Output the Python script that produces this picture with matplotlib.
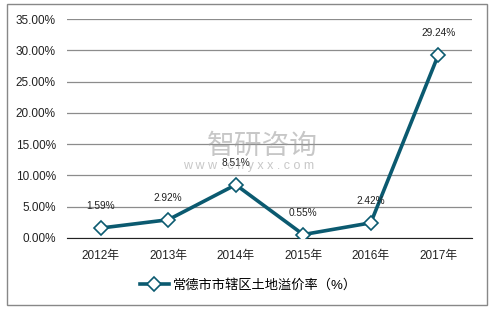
import matplotlib
matplotlib.use("Agg")
import matplotlib.pyplot as plt
from matplotlib.patches import Rectangle

plt.rcParams['font.family'] = ['Liberation Sans', 'Noto Sans CJK SC', 'DejaVu Sans']

years = ['2012年', '2013年', '2014年', '2015年', '2016年', '2017年']
values = [1.59, 2.92, 8.51, 0.55, 2.42, 29.24]
labels = ['1.59%', '2.92%', '8.51%', '0.55%', '2.42%', '29.24%']
yticks = [0, 5, 10, 15, 20, 25, 30, 35]
series_name = '常德市市辖区土地溢价率（%）'

color = '#0b5a70'
W, H = 497, 309
fig = plt.figure(figsize=(W/100, H/100), dpi=100)
fig.patches.append(Rectangle((7/W, 4/H), (487-7)/W, (305-4)/H, transform=fig.transFigure,
                             fill=False, edgecolor='#888888', lw=1.0))

ax = fig.add_axes([67/W, 1-238/H, (472-67)/W, (238-19)/H])
x = list(range(len(years)))
ax.plot(x, values, color=color, lw=2.6, marker='D', markersize=7,
        markerfacecolor='white', markeredgecolor=color, markeredgewidth=1.2,
        label=series_name, zorder=3)
for xi, v, lab in zip(x, values, labels):
    ax.annotate(lab, (xi, v), xytext=(0, 12), textcoords='offset points',
                ha='center', va='bottom', fontsize=7.3, color='#222222', zorder=4)

ax.set_xlim(-0.5, len(years) - 0.5)
ax.set_ylim(0, 35)
ax.set_yticks(yticks)
ax.set_yticklabels([f'{t:.2f}%' for t in yticks], fontsize=8.5)
ax.set_xticks(x)
ax.set_xticklabels(years, fontsize=8.5)
ax.yaxis.grid(True, color='#8c8c8c', lw=0.9)
ax.set_axisbelow(True)
for s in ['top', 'right', 'left']:
    ax.spines[s].set_visible(False)
ax.spines['bottom'].set_color('#222222')
ax.tick_params(length=0, pad=8, colors='#222222')
ax.tick_params(axis='x', pad=9)

fig.text(262/W, 1-146/H, '智研咨询', fontsize=20, color='#9a9a9a', alpha=0.55,
         ha='center', va='center', family=['Noto Sans CJK SC'], zorder=0)
fig.text(249/W, 1-166/H, 'w w w . c h y x x . c o m', fontsize=9, color='#9a9a9a', alpha=0.55,
         ha='center', va='center', zorder=0)

leg = fig.legend(loc='center', bbox_to_anchor=(0.5, 1-285/H), frameon=False,
                 fontsize=9.5, handlelength=2.2, handletextpad=0.3)

fig.savefig('out.png', dpi=100)
